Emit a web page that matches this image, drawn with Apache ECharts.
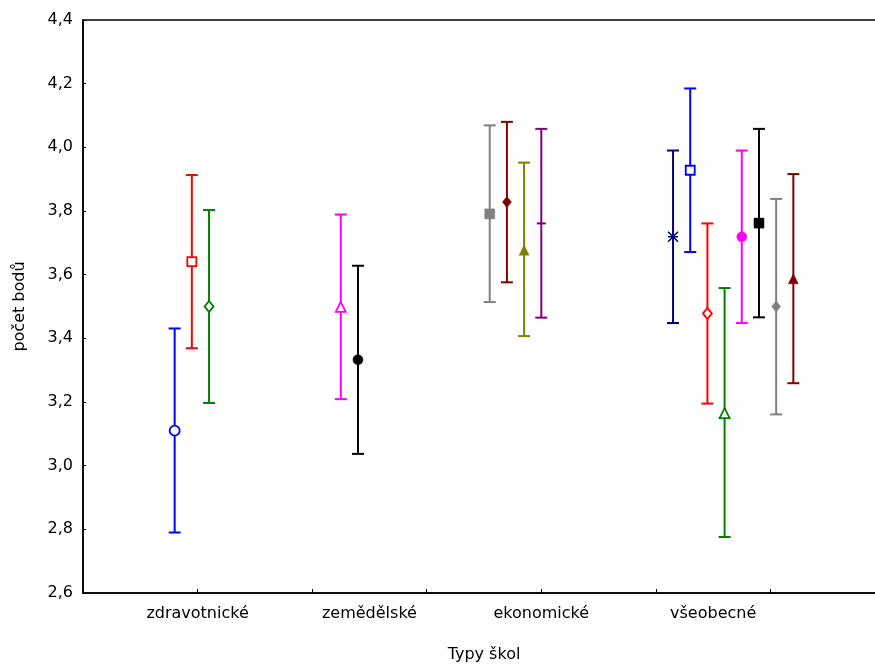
<!DOCTYPE html>
<html>
<head>
<meta charset="utf-8">
<script src="https://cdn.jsdelivr.net/npm/echarts@6/dist/echarts.min.js"></script>
<style>
  html, body { margin: 0; padding: 0; background: #fff; overflow: hidden; }
  #chart { width: 875px; height: 666px; }
</style>
</head>
<body>
<div id="chart"></div>
<script>
// School types on the category axis
const categories = ['zdravotnické', 'zemědělské', 'ekonomické', 'všeobecné'];

// One entry per error bar: school type index, mean, lower and upper limit
const groupIndex = [0, 0, 0, 1, 1, 2, 2, 2, 2, 3, 3, 3, 3, 3, 3, 3, 3];
const means = [3.110, 3.641, 3.500, 3.499, 3.333, 3.791, 3.828, 3.677, 3.761,
               3.719, 3.928, 3.478, 3.165, 3.719, 3.762, 3.500, 3.587];
const lowerLimits = [2.790, 3.369, 3.197, 3.209, 3.037, 3.514, 3.576, 3.407, 3.465,
                     3.448, 3.671, 3.195, 2.776, 3.448, 3.466, 3.161, 3.259];
const upperLimits = [3.431, 3.913, 3.803, 3.789, 3.628, 4.069, 4.080, 3.952, 4.058,
                     3.990, 4.185, 3.761, 3.558, 3.990, 4.058, 3.838, 3.916];

// y axis ticks
const yTicks = [2.6, 2.8, 3.0, 3.2, 3.4, 3.6, 3.8, 4.0, 4.2, 4.4];

// ---- layout and styling ----
const labelPos = [1, 2.5, 4, 5.5];          // where each category name sits on the x scale
const groupStart = [0.8, 2.25, 3.55, 5.15]; // x of the first bar in each group
const barStep = 0.15;

// marker look for each bar: [colour, symbol, filled]
const asterisk = 'path://M0,0L10,10M10,0L0,10M0,5L10,5';
const markerStyles = [
  ['#0000ff', 'circle', false],
  ['#ff0000', 'rect', false],
  ['#008000', 'diamond', false],
  ['#ff00ff', 'triangle', false],
  ['#000000', 'circle', true],
  ['#808080', 'rect', true],
  ['#800000', 'diamond', true],
  ['#808000', 'triangle', true],
  ['#800080', 'dash', true],
  ['#000080', 'asterisk', false],
  ['#0000ff', 'rect', false],
  ['#ff0000', 'diamond', false],
  ['#008000', 'triangle', false],
  ['#ff00ff', 'circle', true],
  ['#000000', 'rect', true],
  ['#808080', 'diamond', true],
  ['#800000', 'triangle', true]
];

const FONT = 'DejaVu Sans';
const FONT_SIZE = 16;

// x position of every bar
const counters = [0, 0, 0, 0];
const xPos = groupIndex.map(g => groupStart[g] + barStep * (counters[g]++));

const barData = means.map((m, i) => [xPos[i], lowerLimits[i], upperLimits[i]]);

const markerData = means.map((m, i) => {
  const [color, sym, filled] = markerStyles[i];
  const item = { value: [xPos[i], m] };
  if (sym === 'dash') {
    item.symbol = 'rect';
    item.symbolSize = [9, 2];
    item.itemStyle = { color: color, opacity: 1 };
  } else if (sym === 'asterisk') {
    item.symbol = asterisk;
    item.symbolSize = 10;
    item.itemStyle = { color: 'none', borderColor: color, borderWidth: 1.6, opacity: 1 };
  } else {
    item.symbol = sym;
    let size = 10;
    if (sym === 'diamond') size = [9, 11];
    if (sym === 'triangle') size = [10, 10];
    if (sym === 'rect') size = filled ? 10 : 9;
    item.symbolSize = size;
    item.itemStyle = filled
      ? { color: color, borderColor: color, borderWidth: 0.5, opacity: 1 }
      : { color: '#ffffff', borderColor: color, borderWidth: 1.8, opacity: 1 };
  }
  return item;
});

const chart = echarts.init(document.getElementById('chart'), null, { renderer: 'canvas' });

chart.setOption({
  backgroundColor: '#ffffff',
  animation: false,
  grid: {
    left: 83, top: 20, width: 802, height: 573,
    outerBoundsMode: 'none',
    containLabel: false,
    show: true, borderColor: '#000', borderWidth: 1.5, backgroundColor: 'transparent'
  },
  xAxis: {
    type: 'value',
    min: 0, max: 7, interval: 1,
    name: 'Typy škol',
    nameLocation: 'middle',
    nameGap: 54,
    nameTextStyle: { fontFamily: FONT, fontSize: FONT_SIZE, color: '#000' },
    axisLine: { show: true, onZero: false, lineStyle: { color: '#000', width: 1.6 } },
    axisTick: { show: true, inside: true, length: 4, customValues: [1, 2, 3, 4, 5, 6],
                lineStyle: { color: '#000', width: 1 } },
    axisLabel: {
      customValues: labelPos,
      margin: 13,
      fontFamily: FONT, fontSize: FONT_SIZE, color: '#000',
      formatter: v => {
        const k = labelPos.indexOf(v);
        return k >= 0 ? categories[k] : '';
      }
    },
    splitLine: { show: false }
  },
  yAxis: {
    type: 'value',
    min: yTicks[0], max: yTicks[yTicks.length - 1], interval: 0.2,
    name: 'počet bodů',
    nameLocation: 'middle',
    nameGap: 55,
    nameTextStyle: { fontFamily: FONT, fontSize: FONT_SIZE, color: '#000' },
    axisLine: { show: true, lineStyle: { color: '#000', width: 1.6 } },
    axisTick: { show: true, inside: true, length: 3, lineStyle: { color: '#000', width: 1 } },
    axisLabel: {
      margin: 10,
      fontFamily: FONT, fontSize: FONT_SIZE, color: '#000',
      formatter: v => v.toFixed(1).replace('.', ',')
    },
    splitLine: { show: false }
  },
  series: [
    {
      type: 'custom',
      data: barData,
      z: 2,
      renderItem: (params, api) => {
        const x = api.value(0);
        const top = api.coord([x, api.value(2)]);
        const bot = api.coord([x, api.value(1)]);
        const color = markerStyles[params.dataIndex][0];
        const half = 6;
        const style = { stroke: color, lineWidth: 2 };
        return {
          type: 'group',
          children: [
            { type: 'line', shape: { x1: top[0], y1: top[1], x2: bot[0], y2: bot[1] }, style },
            { type: 'line', shape: { x1: top[0] - half, y1: top[1], x2: top[0] + half, y2: top[1] }, style },
            { type: 'line', shape: { x1: bot[0] - half, y1: bot[1], x2: bot[0] + half, y2: bot[1] }, style }
          ]
        };
      }
    },
    {
      type: 'scatter',
      data: markerData,
      itemStyle: { opacity: 1 },
      z: 3
    }
  ]
});
</script>
</body>
</html>
